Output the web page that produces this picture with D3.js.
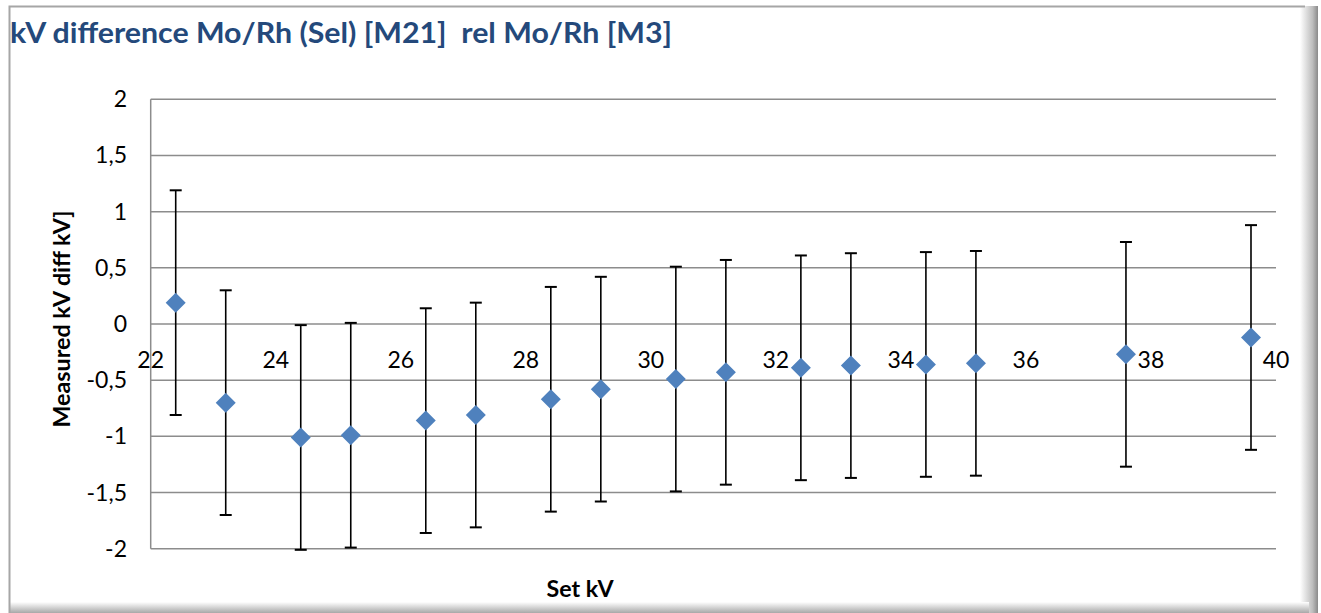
<!DOCTYPE html>
<html>
<head>
<meta charset="utf-8">
<script src="https://cdn.jsdelivr.net/npm/d3@7"></script>
<style>
  body { margin: 0; background: #fff; }
  text { font-family: Lato, "Open Sans", sans-serif; }
</style>
</head>
<body>
<svg id="chart" width="1321" height="613"></svg>
<script>
// values
const setKV = [22.4, 23.2, 24.4, 25.2, 26.4, 27.2, 28.4, 29.2, 30.4, 31.2, 32.4, 33.2, 34.4, 35.2, 37.6, 39.6];
const diffKV = [0.19, -0.70, -1.01, -0.99, -0.86, -0.81, -0.67, -0.58, -0.49, -0.43, -0.39, -0.37, -0.36, -0.35, -0.27, -0.12];
const errKV = [1, 1, 1, 1, 1, 1, 1, 1, 1, 1, 1, 1, 1, 1, 1, 1];
const xTicks = [22, 24, 26, 28, 30, 32, 34, 36, 38, 40];
const yTicks = [-2, -1.5, -1, -0.5, 0, 0.5, 1, 1.5, 2];

const svg = d3.select("#chart");

// frame + shadow
const defs = svg.append("defs");
const gr = defs.append("linearGradient").attr("id", "shR").attr("x1", 0).attr("x2", 1).attr("y1", 0).attr("y2", 0);
gr.append("stop").attr("offset", "0%").attr("stop-color", "#ffffff");
gr.append("stop").attr("offset", "70%").attr("stop-color", "#bdbdbd");
gr.append("stop").attr("offset", "100%").attr("stop-color", "#8a8a8a");
const gb = defs.append("linearGradient").attr("id", "shB").attr("x1", 0).attr("x2", 0).attr("y1", 0).attr("y2", 1);
gb.append("stop").attr("offset", "0%").attr("stop-color", "#ffffff");
gb.append("stop").attr("offset", "100%").attr("stop-color", "#a8a8a8");

svg.append("rect").attr("x", 1300).attr("y", 6).attr("width", 18).attr("height", 607).attr("fill", "url(#shR)");
svg.append("rect").attr("x", 9).attr("y", 602).attr("width", 1300).attr("height", 11).attr("fill", "url(#shB)");
svg.append("path")
  .attr("d", "M9.5,613V6.5H1305")
  .attr("fill", "none").attr("stroke", "#a6a6a6").attr("stroke-width", 2);

// scales
const x = d3.scaleLinear().domain([22, 40]).range([150.7, 1276]);
const y = d3.scaleLinear().domain([-2, 2]).range([548.7, 99.3]);

// gridlines
svg.append("g").selectAll("line").data(yTicks).join("line")
  .attr("x1", x(22)).attr("x2", x(40))
  .attr("y1", d => y(d)).attr("y2", d => y(d))
  .attr("stroke", "#8c8c8c").attr("stroke-width", 1.5);
svg.append("line")
  .attr("x1", x(22)).attr("x2", x(22)).attr("y1", y(2)).attr("y2", y(-2))
  .attr("stroke", "#8c8c8c").attr("stroke-width", 1.5);

// y tick labels
svg.append("g").selectAll("text").data(yTicks).join("text")
  .attr("x", 127).attr("y", d => y(d) + 8)
  .attr("text-anchor", "end")
  .attr("font-size", 23).attr("fill", "#000")
  .text(d => String(d).replace(".", ","));

// x tick labels (axis crosses at 0)
svg.append("g").selectAll("text").data(xTicks).join("text")
  .attr("x", d => x(d)).attr("y", y(0) + 44)
  .attr("text-anchor", "middle")
  .attr("font-size", 23).attr("fill", "#000")
  .text(d => d);

// error bars
const pts = setKV.map((v, i) => ({ x: v, y: diffKV[i], e: errKV[i] }));
const eb = svg.append("g").attr("stroke", "#000").attr("stroke-width", 1.6);
eb.selectAll(".v").data(pts).join("line")
  .attr("x1", d => x(d.x)).attr("x2", d => x(d.x))
  .attr("y1", d => y(d.y + d.e)).attr("y2", d => y(d.y - d.e));
eb.selectAll(".t").data(pts).join("line")
  .attr("x1", d => x(d.x) - 6).attr("x2", d => x(d.x) + 6)
  .attr("y1", d => y(d.y + d.e)).attr("y2", d => y(d.y + d.e)).attr("stroke-width", 2);
eb.selectAll(".b").data(pts).join("line")
  .attr("x1", d => x(d.x) - 6).attr("x2", d => x(d.x) + 6)
  .attr("y1", d => y(d.y - d.e)).attr("y2", d => y(d.y - d.e)).attr("stroke-width", 2);

// diamonds
svg.append("g").selectAll("path").data(pts).join("path")
  .attr("d", d => {
    const cx = x(d.x), cy = y(d.y), r = 10;
    return `M${cx},${cy - r}L${cx + r},${cy}L${cx},${cy + r}L${cx - r},${cy}Z`;
  })
  .attr("fill", "#4f81bd");

// title
svg.append("text")
  .attr("x", 10).attr("y", 43)
  .attr("font-size", 29).attr("font-weight", "bold").attr("fill", "#24497b")
  .attr("xml:space", "preserve")
  .attr("textLength", 662).attr("lengthAdjust", "spacingAndGlyphs")
  .text("kV difference Mo/Rh (Sel) [M21]  rel Mo/Rh [M3]");

// axis titles
svg.append("text")
  .attr("transform", "translate(70,319) rotate(-90)")
  .attr("text-anchor", "middle")
  .attr("font-size", 22).attr("font-weight", "bold").attr("fill", "#000")
  .attr("textLength", 217).attr("lengthAdjust", "spacingAndGlyphs")
  .text("Measured kV diff kV]");

svg.append("text")
  .attr("x", 580).attr("y", 597)
  .attr("text-anchor", "middle")
  .attr("font-size", 22).attr("font-weight", "bold").attr("fill", "#000")
  .attr("textLength", 67).attr("lengthAdjust", "spacingAndGlyphs")
  .text("Set kV");
</script>
</body>
</html>
